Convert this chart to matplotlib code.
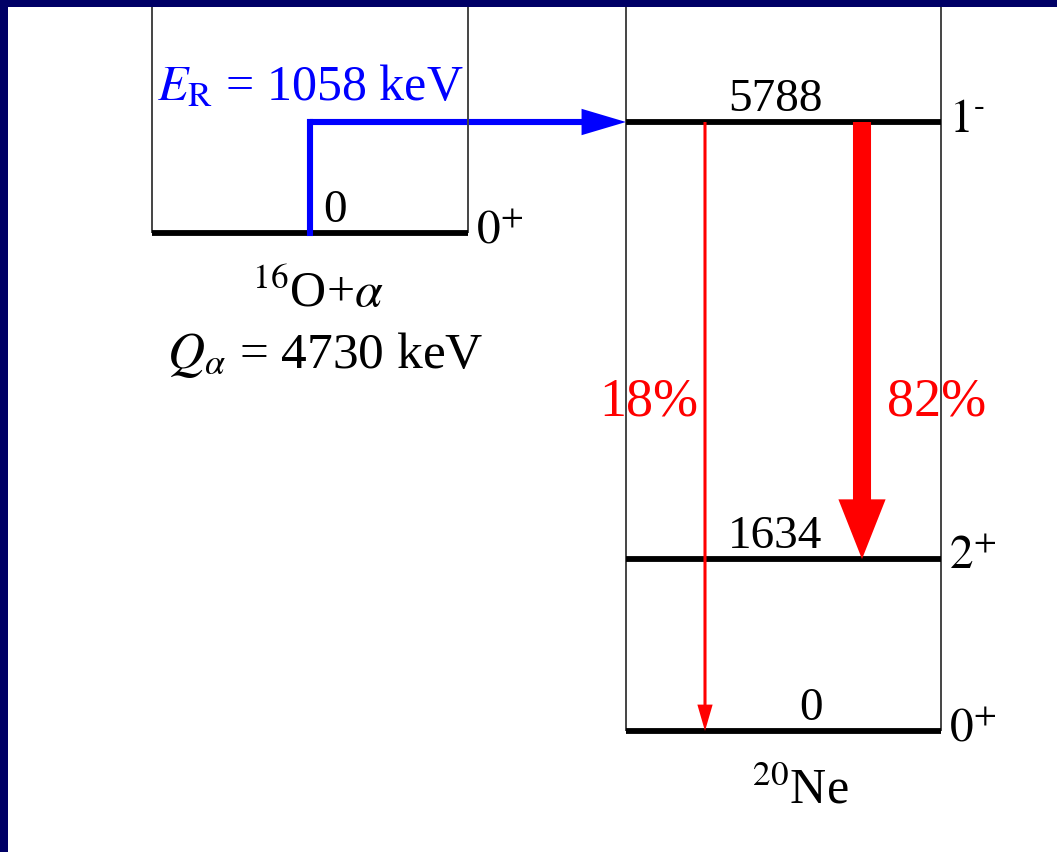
import matplotlib.pyplot as plt
from matplotlib.patches import FancyArrowPatch

plt.rcParams['font.family'] = ['Liberation Serif', 'DejaVu Serif']
plt.rcParams['mathtext.fontset'] = 'stix'

# level energies in keV
ne_levels = [0, 1634, 5788]
ne_labels = ['0', '1634', '5788']
ne_spins = [r'$0^{+}$', r'$2^{+}$', r'$1^{\text{-}}$']
alpha_threshold = 4730
alpha_spin = r'$0^{+}$'
resonance_energy = 1058
branch_final = [0, 1634]
branch_percent = [18, 82]

# horizontal layout (pixels) and scale
left_box = (152, 468)
right_box = (626, 941)
beam_x = 310
branch_x = [705, 862]
kev_px = 609 / 5788.0
PT = 0.72  # points per pixel at dpi 100

fig = plt.figure(figsize=(10.57, 8.52), dpi=100, facecolor='#000066')
ax = fig.add_axes([8 / 1057, 0, 1 - 8 / 1057, 845 / 852])
ax.set_facecolor('white')
ax.set_xlim(8, 1057)
ax.set_ylim(-121 / kev_px, 724 / kev_px)
ax.set_xticks([])
ax.set_yticks([])
for s in ax.spines.values():
    s.set_visible(False)

res_level = alpha_threshold + resonance_energy
top = 724 / kev_px + 50

# box sides
ax.vlines(left_box, alpha_threshold, top, color='#444444', lw=1.4)
ax.vlines(right_box, 0, top, color='#444444', lw=1.4)

# levels
ax.hlines(alpha_threshold, *left_box, color='black', lw=4.2)
ax.hlines(ne_levels, *right_box, color='black', lw=4.2)

def label(x, y, txt, dx, dy, ha, size, color='black'):
    ax.annotate(txt, (x, y), xytext=(dx * PT, dy * PT), textcoords='offset points',
                ha=ha, va='baseline', fontsize=size, color=color)

for e, lab, sp in zip(ne_levels, ne_labels, ne_spins):
    xc = 775 if e > 0 else 811
    label(xc, e, lab, 0, 11, 'center', 34)
    label(right_box[1], e, sp, 8, -10, 'left', 34)

label(335, alpha_threshold, '0', 0, 11, 'center', 34)
label(left_box[1], alpha_threshold, alpha_spin, 8, -10, 'left', 34)
label(318, alpha_threshold, r'$^{16}$O+$\alpha$', 0, -74, 'center', 36)
label(325, alpha_threshold, r'$Q_\alpha$ = %d keV' % alpha_threshold, 0, -135, 'center', 37)
label(800, 0, r'$^{20}$Ne', 0, -72, 'center', 36)
label(310, res_level, r'$E_\mathrm{R}$ = %d keV' % resonance_energy, 0, 22, 'center', 36,
      color='#0000ff')

# incoming alpha
ax.plot([beam_x, beam_x], [alpha_threshold, res_level], color='#0000ff', lw=4.4,
        solid_capstyle='projecting')
ax.add_patch(FancyArrowPatch((beam_x, res_level), (right_box[0], res_level),
                             arrowstyle='simple,head_length=32,head_width=19,tail_width=4.4',
                             mutation_scale=1, color='#0000ff', lw=0, shrinkA=0, shrinkB=0))

# gamma branches
styles = ['simple,head_length=19,head_width=11,tail_width=2.2',
          'simple,head_length=43,head_width=34,tail_width=13']
for x, ef, st in zip(branch_x, branch_final, styles):
    ax.add_patch(FancyArrowPatch((x, res_level), (x, ef), arrowstyle=st, mutation_scale=1,
                                 color='#ff0000', lw=0, shrinkA=0, shrinkB=0, zorder=3))

mid = res_level / 2
label(branch_x[0], mid, '%d%%' % branch_percent[0], -7, 11, 'right', 39, color='#ff0000')
label(branch_x[1], mid, '%d%%' % branch_percent[1], 25, 11, 'left', 39, color='#ff0000')

fig.savefig('out.png', dpi=100, facecolor=fig.get_facecolor())
